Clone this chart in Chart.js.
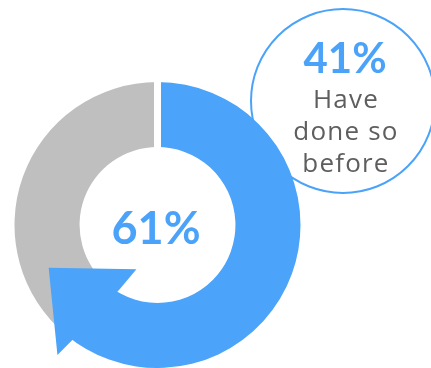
<!DOCTYPE html>
<html>
<head>
<meta charset="utf-8">
<script src="https://cdn.jsdelivr.net/npm/chart.js@4/dist/chart.umd.min.js"></script>
<style>
  html, body { margin: 0; padding: 0; background: #ffffff; }
  #wrap { position: relative; width: 431px; height: 368px; overflow: hidden; }
  #ring { position: absolute; left: 0; top: 0; z-index: 2; }
  .bubble {
    position: absolute; left: 250px; top: 8px; width: 186px; height: 186px;
    box-sizing: border-box; border: 2.5px solid #4BA3F9; border-radius: 50%;
    background: #ffffff; z-index: 1;
  }
  .txt { position: absolute; text-align: center; white-space: nowrap; z-index: 3; }
  .big { font-family: Lato, "Open Sans", sans-serif; font-weight: 700; color: #4BA3F9; }
  .small { font-family: "Open Sans", Lato, sans-serif; font-weight: 400; color: #5E5E5E; letter-spacing: 1.2px; }
</style>
</head>
<body>
<div id="wrap">
  <div class="bubble"></div>
  <canvas id="ring" width="431" height="368"></canvas>
  <div id="centerLabel" class="txt big" style="left:56px; width:200px; top:205px; font-size:45px; line-height:45px;"></div>
  <div id="calloutValue" class="txt big" style="left:245px; width:200px; top:36px; font-size:42px; line-height:42px;"></div>
  <div id="calloutText"></div>
</div>
<script>
// Share of respondents: highlighted part vs. the rest
const segmentNames = ['Highlighted', 'Rest'];
const segmentValues = [61, 39];
const segmentColors = ['#4BA3FA', '#BFBFBF'];

// Side note shown in the bubble
const calloutPercent = 41;
const calloutLines = ['Have', 'done so', 'before'];

document.getElementById('centerLabel').textContent = segmentValues[0] + '%';
document.getElementById('calloutValue').textContent = calloutPercent + '%';

const textBox = document.getElementById('calloutText');
calloutLines.forEach((line, i) => {
  const d = document.createElement('div');
  d.className = 'txt small';
  d.style.left = '246px';
  d.style.width = '200px';
  d.style.fontSize = '26px';
  d.style.lineHeight = '26px';
  d.style.top = (85 + i * 32) + 'px';
  d.textContent = line;
  textBox.appendChild(d);
});

const deg = Math.PI / 180;

// White seam at 12 o'clock and an arrowhead at the end of the first arc
const arrowPlugin = {
  id: 'ringArrow',
  afterDatasetsDraw(chart) {
    const arc = chart.getDatasetMeta(0).data[0];
    const { x, y, startAngle, endAngle, innerRadius, outerRadius } =
      arc.getProps(['x', 'y', 'startAngle', 'endAngle', 'innerRadius', 'outerRadius'], true);
    const ctx = chart.ctx;
    const pt = (a, r) => [x + Math.cos(a) * r, y + Math.sin(a) * r];

    ctx.save();
    // seam
    const s0 = pt(startAngle, innerRadius - 2);
    const s1 = pt(startAngle, outerRadius + 2);
    ctx.strokeStyle = '#ffffff';
    ctx.lineWidth = 7;
    ctx.beginPath();
    ctx.moveTo(s0[0], s0[1]);
    ctx.lineTo(s1[0], s1[1]);
    ctx.stroke();

    // arrowhead
    const band = outerRadius - innerRadius;
    const verts = [
      pt(endAngle - 9.2 * deg, innerRadius - 4),
      pt(endAngle - 14.1 * deg, innerRadius - 29),
      pt(endAngle + 28.9 * deg, innerRadius + band * 0.6),
      pt(endAngle - 2.0 * deg, outerRadius + 21),
      pt(endAngle - 3.3 * deg, outerRadius - 3)
    ];
    ctx.fillStyle = segmentColors[0];
    ctx.beginPath();
    verts.forEach((v, i) => (i ? ctx.lineTo(v[0], v[1]) : ctx.moveTo(v[0], v[1])));
    ctx.closePath();
    ctx.fill();
    ctx.restore();
  }
};

new Chart(document.getElementById('ring'), {
  type: 'doughnut',
  data: {
    labels: segmentNames,
    datasets: [{
      data: segmentValues,
      backgroundColor: segmentColors,
      borderWidth: 0,
      radius: 143,
      cutout: '54.5%'
    }]
  },
  options: {
    responsive: false,
    maintainAspectRatio: false,
    animation: false,
    layout: { padding: { left: 0, right: 116, top: 82, bottom: 0 } },
    plugins: { legend: { display: false }, tooltip: { enabled: false } },
    events: []
  },
  plugins: [arrowPlugin]
});
</script>
</body>
</html>
